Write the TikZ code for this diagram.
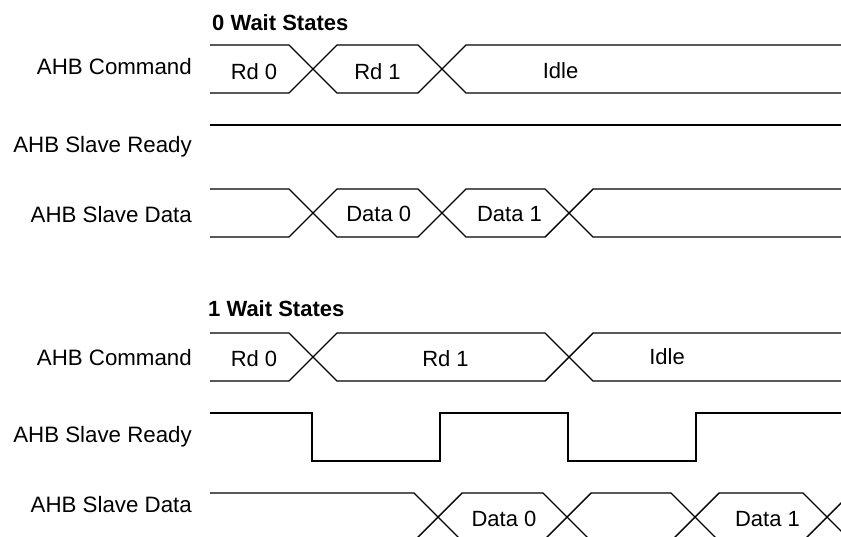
\documentclass[tikz,border=0pt]{standalone}
\usepackage{fontspec}
\setmainfont{Liberation Sans}
\begin{document}
\begin{tikzpicture}[x=1pt,y=-1pt,
  wave/.style={line width=1.4pt, line join=miter, black},
  lbl/.style={anchor=base east, inner sep=0pt, font=\fontsize{22.3}{26}\selectfont},
  val/.style={anchor=base, inner sep=0pt, font=\fontsize{22}{26}\selectfont},
  ttl/.style={anchor=base west, inner sep=0pt, font=\fontsize{22}{26}\selectfont\bfseries}]
\useasboundingbox (0,0) rectangle (841,536);
\clip (0,0) rectangle (841,536);
% ---------- 0 wait states ----------
\node[ttl] (t0) at (212,30) {0 Wait States};
\node[lbl] (c0) at (192,74) {AHB Command};
\node[lbl] (r0) at (192,152) {AHB Slave Ready};
\node[lbl] (d0) at (192,222) {AHB Slave Data};
% command bus
\draw[wave] (210,45)--(289,45)--(337,93)--(418,93)--(466,45)--(845,45);
\draw[wave] (210,93)--(289,93)--(337,45)--(418,45)--(466,93)--(845,93);
\node[val] (c0a) at (254,79) {Rd 0};
\node[val] (c0b) at (377.5,79) {Rd 1};
\node[val] (c0c) at (560.5,78) {Idle};
% ready
\draw[wave] (210,125)--(845,125);
% data bus
\draw[wave] (210,189)--(289,189)--(337,237)--(418,237)--(466,189)--(545,189)--(593,237)--(845,237);
\draw[wave] (210,237)--(289,237)--(337,189)--(418,189)--(466,237)--(545,237)--(593,189)--(845,189);
\node[val] (d0a) at (378.7,221.7) {Data 0};
\node[val] (d0b) at (509.5,221.7) {Data 1};
% ---------- 1 wait states ----------
\node[ttl] (t1) at (208,316) {1 Wait States};
\node[lbl] (c1) at (192,365) {AHB Command};
\node[lbl] (r1) at (192,442) {AHB Slave Ready};
\node[lbl] (d1) at (192,512) {AHB Slave Data};
% command bus
\draw[wave] (210,333)--(289,333)--(337,381)--(545,381)--(593,333)--(845,333);
\draw[wave] (210,381)--(289,381)--(337,333)--(545,333)--(593,381)--(845,381);
\node[val] (c1a) at (254,366) {Rd 0};
\node[val] (c1b) at (445.5,366) {Rd 1};
\node[val] (c1c) at (667,364) {Idle};
% ready
\draw[wave] (210,413)--(312,413)--(312,461)--(440,461)--(440,413)--(568,413)--(568,461)--(696,461)--(696,413)--(845,413);
% data bus
\draw[wave] (210,493)--(414,493)--(462,541)--(543,541)--(591,493)--(671,493)--(719,541)--(803,541)--(851,493);
\draw[wave] (210,541)--(414,541)--(462,493)--(543,493)--(591,541)--(671,541)--(719,493)--(803,493)--(851,541);
\node[val] (d1a) at (504,526) {Data 0};
\node[val] (d1b) at (767.5,526) {Data 1};
\end{tikzpicture}
\end{document}
